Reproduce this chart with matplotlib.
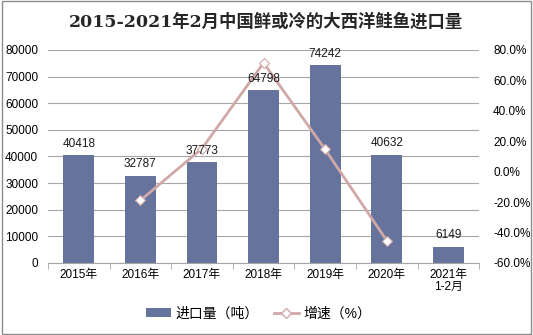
import matplotlib
matplotlib.use("Agg")
import matplotlib.pyplot as plt
from matplotlib.lines import Line2D
from matplotlib.patches import Patch, Rectangle
import numpy as np

plt.rcParams['font.family'] = ['Liberation Sans', 'Noto Sans CJK SC', 'DejaVu Sans']

categories = ['2015年', '2016年', '2017年', '2018年', '2019年', '2020年', '2021年\n1-2月']
volume = [40418, 32787, 37773, 64798, 74242, 40632, 6149]
growth = [None, -18.9, 15.2, 71.5, 14.6, -45.3, None]
left_ticks = [0, 10000, 20000, 30000, 40000, 50000, 60000, 70000, 80000]
right_ticks = [-60, -40, -20, 0, 20, 40, 60, 80]

bar_color = '#66739C'
line_color = '#D0A8A8'
grid_color = '#A6A6A6'

fig = plt.figure(figsize=(5.33, 3.35), dpi=100)
fig.patches.append(Rectangle((0.004, 0.004), 0.992, 0.992, transform=fig.transFigure,
                             fill=False, edgecolor='#8C8C8C', linewidth=1.0))
ax = fig.add_axes([0.090, 0.215, 0.809, 0.636])
x = np.arange(len(categories))
ax.bar(x, volume, width=0.5, color=bar_color, zorder=2)
ax.set_ylim(0, 80000)
ax.set_xlim(-0.5, len(categories) - 0.5)
ax.set_yticks(left_ticks)
ax.set_yticklabels([str(t) for t in left_ticks], fontsize=8.5)
ax.yaxis.grid(True, color=grid_color, linewidth=0.8, zorder=0)
ax.set_axisbelow(True)
ax.tick_params(axis='y', length=0, pad=7)
ax.set_xticks(x)
ax.set_xticklabels(categories, fontsize=8.5, linespacing=1.1)
ax.tick_params(axis='x', length=0, pad=4)
ax.set_xticks(np.arange(-0.5, len(categories), 1), minor=True)
ax.tick_params(axis='x', which='minor', length=4, color=grid_color, direction='out')
for s in ['top', 'right', 'left']:
    ax.spines[s].set_visible(False)
ax.spines['bottom'].set_color(grid_color)

ax2 = ax.twinx()
ax2.set_ylim(-60, 80)
ax2.set_yticks(right_ticks)
ax2.set_yticklabels([f'{t:.1f}%' for t in right_ticks], fontsize=8.5)
ax2.tick_params(axis='y', length=0, pad=10)
for s in ['top', 'right', 'left', 'bottom']:
    ax2.spines[s].set_visible(False)
gx = [xi for xi, g in zip(x, growth) if g is not None]
gy = [g for g in growth if g is not None]
ax2.plot(gx, gy, color=line_color, linewidth=2.0, marker='D', markersize=5,
         markerfacecolor='white', markeredgecolor=line_color, markeredgewidth=0.8, zorder=4)

for xi, v in zip(x, volume):
    ax2.annotate(str(v), (xi, v), xycoords=ax.transData, xytext=(0, 4),
                 textcoords='offset points', ha='center', va='bottom',
                 fontsize=8.5, color='#1A1A1A', zorder=6)

fig.text(0.5, 0.935, '2015-2021年2月中国鲜或冷的大西洋鲑鱼进口量', ha='center', va='center',
         fontsize=12.5, fontweight='bold', color='#262626',
         family=['DejaVu Serif', 'Noto Sans CJK SC'])

handles = [Patch(facecolor=bar_color, edgecolor='none'),
           Line2D([0], [0], color=line_color, linewidth=2.0, marker='D', markersize=5,
                  markerfacecolor='white', markeredgecolor=line_color)]
fig.legend(handles, ['进口量（吨）', '增速（%）'], loc='center', bbox_to_anchor=(0.485, 0.065),
           ncol=2, frameon=False, fontsize=10, handlelength=1.8, handleheight=0.6,
           columnspacing=1.1, handletextpad=0.3)

fig.savefig('out.png', dpi=100)
